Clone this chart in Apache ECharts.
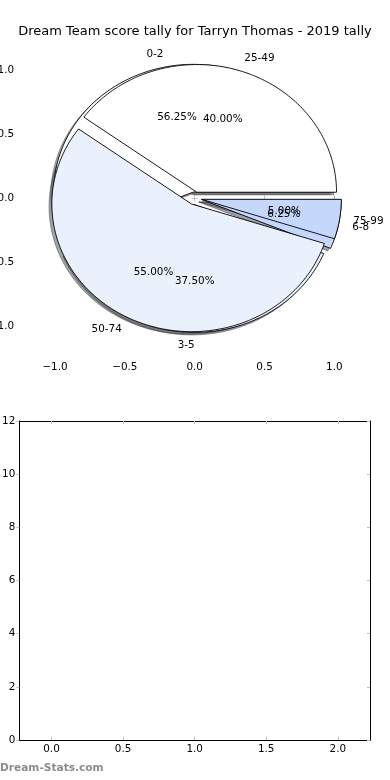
<!DOCTYPE html>
<html>
<head>
<meta charset="utf-8">
<script src="https://cdn.jsdelivr.net/npm/echarts@6/dist/echarts.min.js"></script>
<style>html,body{margin:0;padding:0;background:#fff}#c{width:390px;height:780px}</style>
</head>
<body>
<div id="c"></div>
<script>
// ---- data ----
const titleText = 'Dream Team score tally for Tarryn Thomas - 2019 tally';
const pie1Labels = ['0-2', '3-5', '6-8'];
const pie1Values = [9, 6, 1];
const pie2Labels = ['25-49', '50-74', '75-99'];
const pie2Values = [8, 11, 1];
const wedgeColors = ['#ffffff', '#eaf1fd', '#c5d8fc'];
const pieTicks = [-1, -0.5, 0, 0.5, 1];
const barXTicks = [0, 0.5, 1, 1.5, 2];
const barYTicks = [0, 2, 4, 6, 8, 10, 12];
const watermark = 'Dream-Stats.com';

// ---- layout constants ----
const EXPLODE = 0.05, LABEL_DIST = 1.1, PCT_DIST = 0.6, SH = -0.02;
const FONT = 'DejaVu Sans';
const FS = 10.4;

function hexRgb(h) { return [parseInt(h.slice(1,3),16), parseInt(h.slice(3,5),16), parseInt(h.slice(5,7),16)]; }

function buildWedges(values, labels) {
  const total = values.reduce((a, b) => a + b, 0);
  let cum = 0;
  return values.map((v, i) => {
    const t1 = cum / total * 360; cum += v; const t2 = cum / total * 360;
    const tm = (t1 + t2) / 2 * Math.PI / 180;
    return { t1, t2, tm, ox: EXPLODE * Math.cos(tm), oy: EXPLODE * Math.sin(tm),
             frac: v / total, label: labels[i], color: wedgeColors[i] };
  });
}
const pie1 = buildWedges(pie1Values, pie1Labels);
const pie2 = buildWedges(pie2Values, pie2Labels);
const allWedges = pie1.concat(pie2);

function wedgePts(w, api, dx, dy) {
  const pts = [api.coord([w.ox + dx, w.oy + dy])];
  const n = Math.max(2, Math.ceil(w.t2 - w.t1));
  for (let k = 0; k <= n; k++) {
    const a = (w.t1 + (w.t2 - w.t1) * k / n) * Math.PI / 180;
    pts.push(api.coord([w.ox + dx + Math.cos(a), w.oy + dy + Math.sin(a)]));
  }
  return pts;
}

function wedgeSeries(wedges, values, labels, z) {
  return {
    type: 'custom', xAxisIndex: 0, yAxisIndex: 0, z: z, silent: true,
    data: values.map((v, i) => ({ name: labels[i], value: [v] })),
    renderItem: (params, api) => {
      const w = wedges[params.dataIndex];
      return { type: 'polygon', shape: { points: wedgePts(w, api, 0, 0) },
               style: { fill: w.color, stroke: '#000', lineWidth: 0.9 } };
    }
  };
}

const shadowSeries = {
  type: 'custom', xAxisIndex: 0, yAxisIndex: 0, z: 1, silent: true,
  data: pie1Values.concat(pie2Values).map(v => [v]),
  renderItem: (params, api) => {
    const w = allWedges[params.dataIndex];
    const c = hexRgb(w.color).map(x => Math.round(x * 0.3));
    const col = 'rgba(' + c.join(',') + ',0.5)';
    return { type: 'polygon', shape: { points: wedgePts(w, api, SH, SH) },
             style: { fill: col, stroke: col, lineWidth: 1 } };
  }
};

const labelSeries = {
  type: 'custom', xAxisIndex: 0, yAxisIndex: 0, z: 10, silent: true,
  data: pie1Values.concat(pie2Values).map(v => [v]),
  renderItem: (params, api) => {
    const w = allWedges[params.dataIndex];
    const lx = w.ox + LABEL_DIST * Math.cos(w.tm), ly = w.oy + LABEL_DIST * Math.sin(w.tm);
    const px = w.ox + PCT_DIST * Math.cos(w.tm), py = w.oy + PCT_DIST * Math.sin(w.tm);
    const lp = api.coord([lx, ly]), pp = api.coord([px, py]);
    return { type: 'group', children: [
      { type: 'text', style: { text: w.label, x: lp[0], y: lp[1], fill: '#000',
        font: FS + 'px "' + FONT + '"', align: lx > 0 ? 'left' : 'right', verticalAlign: 'middle' } },
      { type: 'text', style: { text: (w.frac * 100).toFixed(2) + '%', x: pp[0], y: pp[1], fill: '#000',
        font: FS + 'px "' + FONT + '"', align: 'center', verticalAlign: 'middle' } }
    ] };
  }
};

const fmt = v => v.toFixed(1).replace('-', '\u2212');
const tickCol = '#bdbdbd';
const lbl = { color: '#000', fontFamily: FONT, fontSize: FS };

function pieAxis(dim, pos, showLabel) {
  return {
    type: 'value', gridIndex: 0, position: pos, min: -1.25, max: 1.25,
    axisLine: { show: false },
    splitLine: { show: false },
    axisTick: { show: true, inside: true, length: 3, customValues: pieTicks, lineStyle: { color: tickCol, width: 1 } },
    axisLabel: Object.assign({ show: showLabel, customValues: pieTicks, formatter: fmt, margin: dim === 'x' ? 4 : 6 }, lbl)
  };
}

const option = {
  animation: false,
  backgroundColor: '#fff',
  title: { text: titleText, left: 'center', top: 20,
    textStyle: { fontFamily: FONT, fontSize: 13, fontWeight: 'normal', color: '#000' } },
  grid: [
    { left: 20.1, top: 38.7, width: 349.2, height: 319.2, outerBoundsMode: 'none', containLabel: false },
    { left: 19.3, top: 421, width: 350.7, height: 319, outerBoundsMode: 'none', containLabel: false }
  ],
  xAxis: [
    pieAxis('x', 'bottom', true),
    pieAxis('x', 'top', false),
    { type: 'value', gridIndex: 1, position: 'bottom', min: -0.225, max: 2.225,
      axisLine: { show: true, onZero: false, lineStyle: { color: '#000', width: 1 } },
      splitLine: { show: false },
      axisTick: { show: true, inside: true, length: 3, customValues: barXTicks, lineStyle: { color: tickCol } },
      axisLabel: Object.assign({ customValues: barXTicks, formatter: fmt, margin: 4 }, lbl) },
    { type: 'value', gridIndex: 1, position: 'top', min: -0.225, max: 2.225,
      axisLine: { show: true, onZero: false, lineStyle: { color: '#000', width: 1 } },
      splitLine: { show: false },
      axisTick: { show: true, inside: true, length: 3, customValues: barXTicks, lineStyle: { color: tickCol } },
      axisLabel: { show: false } }
  ],
  yAxis: [
    pieAxis('y', 'left', true),
    pieAxis('y', 'right', false),
    { type: 'value', gridIndex: 1, position: 'left', min: 0, max: 12, interval: 2,
      axisLine: { show: true, onZero: false, lineStyle: { color: '#000', width: 1 } },
      splitLine: { show: false },
      axisTick: { show: true, inside: false, length: 3, lineStyle: { color: tickCol } },
      axisLabel: Object.assign({ margin: 4, formatter: v => String(v) }, lbl) },
    { type: 'value', gridIndex: 1, position: 'right', min: 0, max: 12, interval: 2,
      axisLine: { show: true, onZero: false, lineStyle: { color: '#000', width: 1 } },
      splitLine: { show: false },
      axisTick: { show: true, inside: true, length: 3, lineStyle: { color: tickCol } },
      axisLabel: { show: false } }
  ],
  graphic: [
    { type: 'text', left: 0, top: 763,
      style: { text: watermark, fill: '#8c8c8c', font: 'bold 10.6px "DejaVu Sans"' } }
  ],
  series: [
    shadowSeries,
    wedgeSeries(pie1, pie1Values, pie1Labels, 2),
    wedgeSeries(pie2, pie2Values, pie2Labels, 3),
    labelSeries
  ]
};

const chart = echarts.init(document.getElementById('c'), null, { renderer: 'canvas' });
chart.setOption(option);
</script>
</body>
</html>
